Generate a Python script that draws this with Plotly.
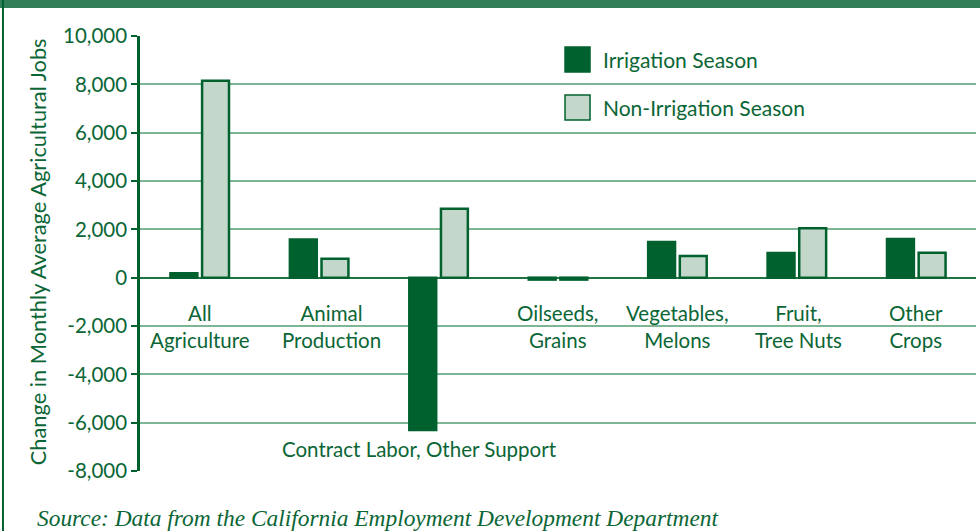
import plotly.graph_objects as go

categories = ["All Agriculture", "Animal Production", "Contract Labor, Other Support",
              "Oilseeds, Grains", "Vegetables, Melons", "Fruit, Tree Nuts", "Other Crops"]
category_labels = ["All<br>Agriculture", "Animal<br>Production", "Contract Labor, Other Support",
                   "Oilseeds,<br>Grains", "Vegetables,<br>Melons", "Fruit,<br>Tree Nuts", "Other<br>Crops"]
irrigation = [180, 1580, -6300, -80, 1480, 1020, 1600]
non_irrigation = [8150, 780, 2850, -80, 900, 2050, 1030]
series_names = ["Irrigation Season", "Non-Irrigation Season"]
tick_vals = [-8000, -6000, -4000, -2000, 0, 2000, 4000, 6000, 8000, 10000]
tick_text = ["-8,000", "-6,000", "-4,000", "-2,000", "0", "2,000", "4,000", "6,000", "8,000", "10,000"]
y_title = "Change in Monthly Average Agricultural Jobs"
source = "Source: Data from the California Employment Development Department"

DARK = "#00612f"
LIGHT = "#c3d8ca"
TEXT = "#0b6636"
FONT = "Lato"

fig = go.Figure()
fig.add_trace(go.Bar(x=categories, y=irrigation, name=series_names[0],
                     marker=dict(color=DARK, line=dict(color=DARK, width=2.5)), showlegend=False))
fig.add_trace(go.Bar(x=categories, y=non_irrigation, name=series_names[1],
                     marker=dict(color=LIGHT, line=dict(color=DARK, width=2.5)), showlegend=False))

label_shift = [0, 12, -19, 0, 0, 2, 0]
annotations = []
for i, (c, lab) in enumerate(zip(categories, category_labels)):
    yy = -7080 if i == 2 else -2000
    annotations.append(dict(x=c, y=yy, xref="x", yref="y", text=lab, showarrow=False,
                            xshift=label_shift[i], font=dict(size=20.5, color=TEXT, family=FONT)))

# legend drawn manually
shapes = []
leg_y = [(0.9747, 0.9172), (0.8644, 0.8069)]
leg_fill = [DARK, LIGHT]
for (y0, y1), fill, name in zip(leg_y, leg_fill, series_names):
    shapes.append(dict(type="rect", xref="paper", yref="paper", x0=0.5084, x1=0.5383, y0=y1, y1=y0,
                       fillcolor=fill, line=dict(color=DARK, width=1.5)))
    annotations.append(dict(x=0.5514, y=(y0 + y1) / 2, xref="paper", yref="paper", text=name,
                            showarrow=False, xanchor="left", yanchor="middle",
                            font=dict(size=21, color=TEXT, family=FONT)))

# header bar and frame
shapes.append(dict(type="rect", xref="paper", yref="paper", x0=-0.2, x1=1.05, y0=1.0644, y1=1.1,
                   fillcolor="#317e58", line=dict(width=0), layer="above"))
shapes.append(dict(type="line", xref="paper", yref="paper", x0=-0.1639, x1=-0.1639, y0=-0.2, y1=1.1,
                   line=dict(color=DARK, width=2)))

annotations.append(dict(x=-0.1232, y=0.503, xref="paper", yref="paper", text=y_title, textangle=-90,
                        xanchor="center", yanchor="middle",
                        showarrow=False, font=dict(size=21.8, color=TEXT, family=FONT)))
annotations.append(dict(x=-0.1256, y=-0.108, xref="paper", yref="paper", text=source, showarrow=False,
                        xanchor="left", yanchor="middle",
                        font=dict(size=23.4, color=TEXT, family="Liberation Serif", style="italic")))

fig.update_layout(
    width=980, height=531,
    margin=dict(l=140, r=4, t=36, b=60),
    paper_bgcolor="white", plot_bgcolor="white",
    barmode="group", bargap=0.47, bargroupgap=0.15,
    xaxis=dict(range=[-0.5, 6.5], showticklabels=False, showgrid=False, showline=False, ticks="",
               zeroline=False),
    yaxis=dict(range=[-8000, 10000], tickvals=tick_vals, ticktext=tick_text,
               showgrid=True, gridcolor="#7db595", gridwidth=1.5,
               zeroline=True, zerolinecolor="#1f7444", zerolinewidth=2,
               showline=True, linecolor=DARK, linewidth=2.5,
               ticks="outside", ticklen=6, tickwidth=2, tickcolor=DARK,
               tickfont=dict(size=20.5, color=TEXT, family=FONT)),
    annotations=annotations, shapes=shapes,
    showlegend=False,
)

fig.write_html("out.html", config={"displayModeBar": False},
               post_script="document.body.style.margin='0';document.body.style.padding='0';")
